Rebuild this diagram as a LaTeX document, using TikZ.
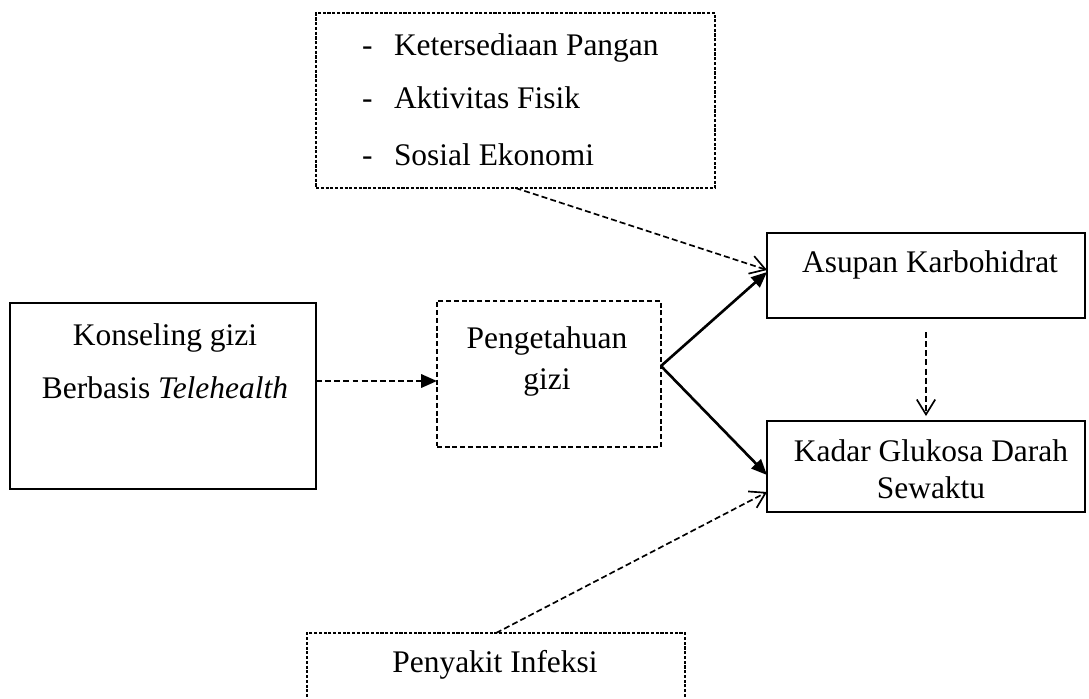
\documentclass[tikz,border=0pt]{standalone}
\usepackage{fontspec}
\setmainfont{Liberation Serif}
\usetikzlibrary{arrows.meta}

\begin{document}
\begin{tikzpicture}[x=0.02cm, y=-0.02cm,
  every node/.style={inner sep=0pt, outer sep=0pt, font=\fontsize{17.9pt}{21pt}\selectfont},
  solidbox/.style={draw, line width=1.6pt},
  dashbox/.style={draw, line width=1.2pt, dash pattern=on 2.8pt off 1.6pt},
  thinbox/.style={draw, line width=0.75pt, dash pattern=on 1.8pt off 0.9pt},
  txt/.style={anchor=base},
  solidarrow/.style={line width=1.5pt, -{Triangle[length=9pt,width=7.5pt]}},
  thickdash/.style={line width=1.5pt, dash pattern=on 3.4pt off 1.8pt, -{Triangle[length=9pt,width=7.5pt]}},
  thindash/.style={line width=0.95pt, dash pattern=on 3.4pt off 1.8pt, -{Straight Barb[length=8.5pt,width=10.5pt]}}]
\clip (0,0) rectangle (1089,698);

% boxes
\node[thinbox, minimum width=7.98cm, minimum height=3.5cm] (factors) at (515.5,100.5) {};
\node[solidbox, minimum width=6.12cm, minimum height=3.72cm] (konseling) at (163,396) {};
\node[dashbox, minimum width=4.48cm, minimum height=2.92cm] (pengetahuan) at (549,374) {};
\node[solidbox, minimum width=6.36cm, minimum height=1.7cm] (asupan) at (926,275.5) {};
\node[solidbox, minimum width=6.36cm, minimum height=1.82cm] (kadar) at (926,466.5) {};
\node[thinbox, minimum width=7.56cm, minimum height=1.88cm] (infeksi) at (496,680) {};

% texts
\node[anchor=base west] (dash1) at (362,55) {-};
\node[anchor=base west] (dash2) at (362,108) {-};
\node[anchor=base west] (dash3) at (362,165) {-};
\node[anchor=base west] (item1) at (394,55) {Ketersediaan Pangan};
\node[anchor=base west] (item2) at (394,108) {Aktivitas Fisik};
\node[anchor=base west] (item3) at (394,165) {Sosial Ekonomi};
\node[txt] (konseling1) at (165,345) {Konseling gizi};
\node[txt] (konseling2) at (165,398) {Berbasis \textit{Telehealth}};
\node[txt] (pengetahuan1) at (547,348) {Pengetahuan};
\node[txt] (pengetahuan2) at (547,389) {gizi};
\node[txt] (asupan1) at (930,272) {Asupan Karbohidrat};
\node[txt] (kadar1) at (931,461) {Kadar Glukosa Darah};
\node[txt] (kadar2) at (931,498) {Sewaktu};
\node[txt] (infeksi1) at (495,672) {Penyakit Infeksi};

% connectors
\coordinate (pin) at ([yshift=-0.14cm]pengetahuan.west);
\coordinate (pout) at ([yshift=0.16cm]pengetahuan.east);
\draw[thickdash] (konseling.east |- pin) -- (pin);
\draw[solidarrow] (pout) -- ([yshift=0.07cm]asupan.west);
\draw[solidarrow] (pout) -- ([yshift=-0.17cm]kadar.west);
\draw[thindash] (factors.south) -- ([yshift=0.11cm]asupan.west);
\draw[thindash, shorten <=0.28cm, shorten >=0.1cm] (asupan.south) -- (kadar.north);
\draw[thindash] (infeksi.north) -- ([yshift=-0.51cm]kadar.west);
\end{tikzpicture}
\end{document}
